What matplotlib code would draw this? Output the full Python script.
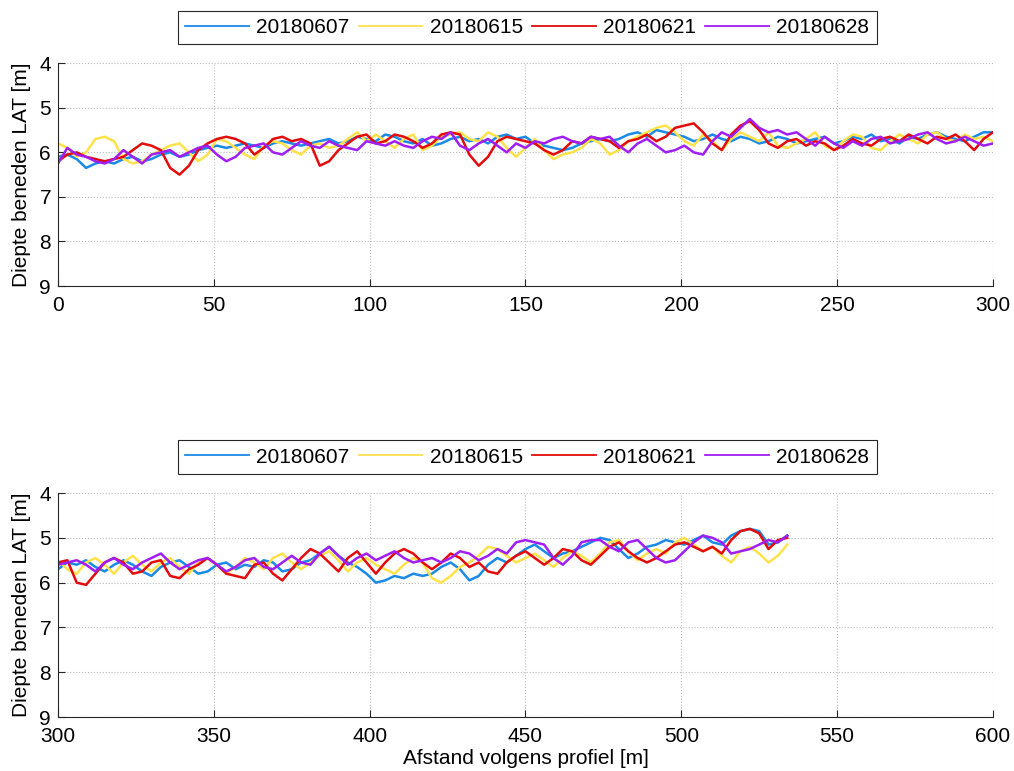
import numpy as np
import matplotlib as mpl
mpl.use("Agg")
import matplotlib.pyplot as plt

labels = ["20180607", "20180615", "20180621", "20180628"]
colors = ["#1a8ae6", "#ffe24a", "#e30b0b", "#a11ef2"]

# bovenste profiel, 0-300 m (stap 3 m)
top_blue = [6.10, 6.05, 6.15, 6.35, 6.25, 6.20, 6.25, 6.15, 6.10, 6.20, 6.15, 6.05, 6.00, 6.10, 6.05,
            5.95, 5.90, 5.85, 5.90, 5.85, 5.80, 5.85, 5.90, 5.80, 5.75, 5.80, 5.85, 5.80, 5.75, 5.70,
            5.80, 5.75, 5.65, 5.70, 5.75, 5.60, 5.65, 5.75, 5.80, 5.70, 5.85, 5.80, 5.70, 5.65, 5.75,
            5.70, 5.80, 5.65, 5.60, 5.70, 5.65, 5.80, 5.85, 5.90, 5.95, 5.90, 5.80, 5.75, 5.70, 5.75,
            5.70, 5.60, 5.55, 5.65, 5.50, 5.55, 5.60, 5.65, 5.75, 5.70, 5.60, 5.70, 5.75, 5.65, 5.70,
            5.80, 5.75, 5.65, 5.70, 5.80, 5.75, 5.70, 5.65, 5.80, 5.75, 5.65, 5.70, 5.60, 5.75, 5.70,
            5.80, 5.65, 5.70, 5.60, 5.55, 5.65, 5.70, 5.75, 5.65, 5.55, 5.55]
top_yellow = [5.80, 5.90, 6.10, 6.00, 5.70, 5.65, 5.75, 6.15, 6.25, 6.20, 6.05, 5.95, 5.85, 5.80, 6.00,
              6.20, 6.05, 5.70, 5.75, 5.90, 6.05, 6.15, 5.85, 5.75, 5.80, 5.95, 6.05, 5.85, 5.80, 5.90,
              5.85, 5.70, 5.55, 5.75, 5.60, 5.75, 5.90, 5.70, 5.60, 5.95, 5.85, 5.65, 5.60, 5.55, 5.70,
              5.75, 5.55, 5.65, 5.90, 6.10, 5.90, 5.70, 5.95, 6.15, 6.05, 6.00, 5.90, 5.70, 5.80, 6.05,
              5.95, 5.75, 5.65, 5.55, 5.45, 5.40, 5.55, 5.75, 5.85, 5.60, 5.75, 5.95, 5.70, 5.55, 5.65,
              5.75, 5.55, 5.85, 5.90, 5.80, 5.70, 5.55, 5.85, 5.95, 5.75, 5.60, 5.65, 5.90, 5.95, 5.75,
              5.60, 5.70, 5.80, 5.60, 5.55, 5.70, 5.75, 5.60, 5.70, 5.65, 5.75]
top_red = [6.20, 6.05, 6.00, 6.10, 6.15, 6.20, 6.15, 6.10, 5.95, 5.80, 5.85, 5.95, 6.35, 6.50, 6.30,
           5.95, 5.80, 5.70, 5.65, 5.70, 5.80, 6.05, 5.90, 5.70, 5.65, 5.75, 5.70, 5.80, 6.30, 6.20,
           5.95, 5.80, 5.65, 5.60, 5.80, 5.75, 5.60, 5.65, 5.75, 5.90, 5.80, 5.60, 5.55, 5.60, 6.05,
           6.30, 6.10, 5.75, 5.65, 5.70, 5.75, 5.80, 5.95, 6.05, 5.95, 5.75, 5.80, 5.65, 5.70, 5.75,
           5.90, 5.75, 5.70, 5.60, 5.75, 5.65, 5.45, 5.40, 5.35, 5.55, 5.80, 5.95, 5.60, 5.40, 5.30,
           5.50, 5.80, 5.90, 5.75, 5.70, 5.85, 5.75, 5.80, 5.95, 5.85, 5.70, 5.80, 5.85, 5.70, 5.65,
           5.75, 5.60, 5.70, 5.80, 5.65, 5.70, 5.60, 5.75, 5.95, 5.70, 5.55]
top_purple = [6.25, 5.90, 6.05, 6.10, 6.20, 6.25, 6.15, 5.95, 6.10, 6.25, 6.05, 6.00, 5.95, 6.10, 6.00,
              5.90, 5.85, 6.05, 6.20, 6.10, 5.90, 5.85, 5.80, 6.00, 6.05, 5.90, 5.75, 5.85, 5.90, 5.75,
              5.85, 5.90, 5.95, 5.75, 5.80, 5.85, 5.75, 5.85, 5.90, 5.75, 5.65, 5.70, 5.55, 5.85, 5.95,
              5.80, 5.70, 5.85, 6.00, 5.80, 5.90, 5.75, 5.80, 5.70, 5.65, 5.75, 5.80, 5.65, 5.70, 5.65,
              5.85, 6.00, 5.80, 5.70, 5.85, 6.00, 5.95, 5.85, 6.00, 6.05, 5.75, 5.55, 5.65, 5.45, 5.25,
              5.45, 5.55, 5.50, 5.60, 5.55, 5.70, 5.85, 5.65, 5.80, 5.90, 5.75, 5.85, 5.70, 5.65, 5.80,
              5.75, 5.70, 5.60, 5.55, 5.70, 5.80, 5.75, 5.65, 5.75, 5.85, 5.80]

# onderste profiel, 300-534 m (stap 3 m)
bot_blue = [5.70, 5.55, 5.60, 5.50, 5.65, 5.75, 5.60, 5.50, 5.60, 5.75, 5.85, 5.65, 5.55, 5.50, 5.65,
            5.80, 5.75, 5.60, 5.55, 5.70, 5.60, 5.65, 5.50, 5.55, 5.75, 5.70, 5.55, 5.50, 5.35, 5.20,
            5.40, 5.55, 5.65, 5.80, 6.00, 5.95, 5.85, 5.90, 5.80, 5.85, 5.80, 5.65, 5.55, 5.70, 5.95,
            5.85, 5.60, 5.45, 5.55, 5.40, 5.25, 5.15, 5.30, 5.45, 5.35, 5.30, 5.20, 5.10, 5.00, 5.05,
            5.25, 5.45, 5.35, 5.20, 5.15, 5.05, 5.10, 5.15, 5.05, 4.95, 5.10, 5.15, 4.95, 4.85, 4.80,
            4.85, 5.15, 5.10, 4.95]
bot_yellow = [5.50, 5.70, 5.80, 5.55, 5.45, 5.60, 5.80, 5.55, 5.40, 5.60, 5.75, 5.55, 5.45, 5.65, 5.80,
              5.55, 5.45, 5.60, 5.80, 5.65, 5.45, 5.55, 5.70, 5.45, 5.35, 5.55, 5.70, 5.55, 5.40, 5.30,
              5.50, 5.75, 5.55, 5.45, 5.60, 5.70, 5.80, 5.60, 5.45, 5.55, 5.90, 6.00, 5.85, 5.65, 5.55,
              5.40, 5.20, 5.25, 5.40, 5.55, 5.45, 5.35, 5.50, 5.65, 5.45, 5.30, 5.40, 5.55, 5.35, 5.10,
              5.05, 5.30, 5.50, 5.35, 5.25, 5.35, 5.10, 5.00, 5.15, 5.30, 5.20, 5.40, 5.55, 5.30, 5.20,
              5.35, 5.55, 5.40, 5.15]
bot_red = [5.55, 5.50, 6.00, 6.05, 5.80, 5.55, 5.45, 5.55, 5.80, 5.75, 5.55, 5.50, 5.85, 5.90, 5.70,
           5.60, 5.45, 5.60, 5.80, 5.85, 5.90, 5.60, 5.55, 5.80, 5.95, 5.70, 5.45, 5.25, 5.35, 5.55,
           5.75, 5.45, 5.30, 5.55, 5.80, 5.55, 5.35, 5.25, 5.35, 5.55, 5.70, 5.55, 5.35, 5.45, 5.65,
           5.55, 5.75, 5.80, 5.55, 5.40, 5.30, 5.45, 5.60, 5.45, 5.25, 5.30, 5.50, 5.60, 5.40, 5.20,
           5.10, 5.30, 5.45, 5.55, 5.45, 5.30, 5.15, 5.10, 5.20, 5.30, 5.20, 5.35, 5.05, 4.85, 4.80,
           4.90, 5.25, 5.05, 5.00]
bot_purple = [5.60, 5.55, 5.50, 5.60, 5.75, 5.55, 5.45, 5.60, 5.70, 5.55, 5.45, 5.35, 5.55, 5.70, 5.60,
              5.50, 5.45, 5.60, 5.75, 5.65, 5.50, 5.45, 5.65, 5.70, 5.55, 5.40, 5.55, 5.60, 5.35, 5.20,
              5.40, 5.60, 5.45, 5.35, 5.50, 5.40, 5.30, 5.45, 5.55, 5.50, 5.45, 5.55, 5.45, 5.30, 5.35,
              5.50, 5.40, 5.25, 5.35, 5.10, 5.05, 5.10, 5.15, 5.45, 5.60, 5.40, 5.10, 5.05, 5.05, 5.20,
              5.30, 5.10, 5.05, 5.25, 5.45, 5.55, 5.50, 5.30, 5.10, 4.95, 5.00, 5.10, 5.35, 5.30, 5.25,
              5.15, 5.05, 5.10, 4.95]

top_series = [top_blue, top_yellow, top_red, top_purple]
bot_series = [bot_blue, bot_yellow, bot_red, bot_purple]

plt.rcParams['font.family'] = ['Liberation Sans', 'DejaVu Sans']
plt.rcParams['font.size'] = 15

fig = plt.figure(figsize=(10.14, 7.71), dpi=100)
ax1 = fig.add_axes([0.0572, 0.629, 0.922, 0.289])
ax2 = fig.add_axes([0.0572, 0.070, 0.922, 0.2905])

def drawPanel(ax, series, x0, x1, xlim):
	for vals, color, label in zip(series, colors, labels):
		x = np.linspace(x0, x1, len(vals))
		ax.plot(x, vals, color=color, lw=1.8, label=label)
	ax.set_xlim(xlim)
	ax.set_ylim(9, 4)
	ax.set_xticks(np.arange(xlim[0], xlim[1] + 1, 50))
	ax.set_yticks([4, 5, 6, 7, 8, 9])
	ax.grid(True, linestyle=':', color='#bdbdbd', linewidth=0.8)
	for side in ['top', 'right']:
		ax.spines[side].set_visible(False)
	for side in ['left', 'bottom']:
		ax.spines[side].set_color('#262626')
	ax.tick_params(direction='in', length=5, color='#262626', labelsize=15)
	ax.tick_params(axis='y', pad=5)
	ax.tick_params(axis='x', pad=7)
	ax.set_ylabel("Diepte beneden LAT [m]", fontsize=15, labelpad=6)
	leg = ax.legend(loc='lower center', bbox_to_anchor=(0.502, 1.085), ncol=4, fancybox=False,
		edgecolor='#262626', framealpha=1, fontsize=15, handlelength=3.05, columnspacing=0.45,
		borderpad=0.35, handletextpad=0.35, borderaxespad=0)
	leg.get_frame().set_linewidth(0.8)
	for line in leg.get_lines():
		line.set_linewidth(1.3)

drawPanel(ax1, top_series, 0, 300, (0, 300))
drawPanel(ax2, bot_series, 300, 534, (300, 600))
ax2.set_xlabel("Afstand volgens profiel [m]", fontsize=15, labelpad=2)

fig.savefig("out.png", dpi=100)
